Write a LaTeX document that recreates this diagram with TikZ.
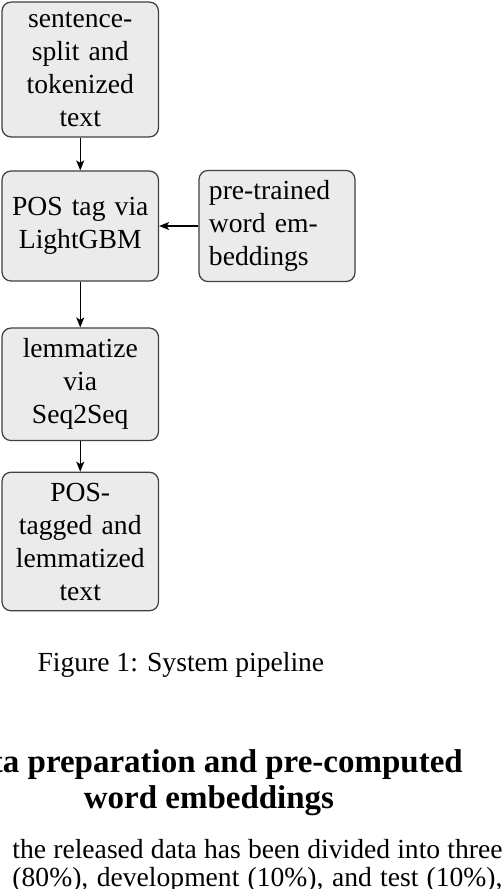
\documentclass[tikz,border=0pt]{standalone}
\usepackage{fontspec}
\setmainfont{Liberation Serif}
\usetikzlibrary{arrows.meta}
\newcommand\boxfont{\fontsize{11.04}{13.2}\selectfont}
\newcommand\headfont{\fontsize{13.2}{14.7}\selectfont\bfseries}
\begin{document}
\begin{tikzpicture}[x=0.4pt,y=-0.4pt,
  box/.style={draw=black!75, line width=0.5pt, fill=black!8, rounded corners=3.6pt,
    inner sep=4pt, text width=54.6pt, align=center, font=\boxfont},
  conn/.style={draw=black, line width=0.45pt, -{Stealth[length=4pt,width=3.2pt,inset=1pt]}},
  txt/.style={inner sep=0pt, font=\boxfont}]
\useasboundingbox (0,0) rectangle (504,889);
\clip (0,0) rectangle (504,889);
\node[box, minimum width=62.6pt, minimum height=53.44pt] (b1) at (80.25,69.5)
  {sentence-\\split and\\tokenized\\text};
\node[box, minimum width=62.6pt, minimum height=44pt] (b2) at (80.25,226)
  {POS tag via\\LightGBM};
\node[box, minimum width=62.4pt, minimum height=44pt, text width=54.4pt, align=left] (emb) at (277,226)
  {pre-trained\\word em-\\beddings};
\node[box, minimum width=62.6pt, minimum height=45pt] (b3) at (80.25,384.3)
  {lemmatize\\via\\Seq2Seq};
\node[box, minimum width=62.6pt, minimum height=55.4pt] (b4) at (80.25,541.5)
  {POS-\\tagged and\\lemmatized\\text};
\draw[conn] (b1) -- (b2);
\draw[conn] (emb) -- (b2);
\draw[conn] (b2) -- (b3);
\draw[conn] (b3) -- (b4);
\node[txt, anchor=base west] (cap) at (37,671) {Figure 1: System pipeline};
\node[txt, anchor=base east, font=\headfont] (h1) at (463.3,772.5) {ta preparation and pre-computed};
\node[txt, anchor=base west, font=\headfont] (h2) at (83.3,808) {word embeddings};
\node[txt, anchor=base west] (p1) at (12,858) {\makebox[196pt][s]{the released data has been divided into three}};
\node[txt, anchor=base west] (p2) at (12,886.5) {\makebox[196pt][s]{(80\%), development (10\%), and test (10\%),}};
\end{tikzpicture}
\end{document}
